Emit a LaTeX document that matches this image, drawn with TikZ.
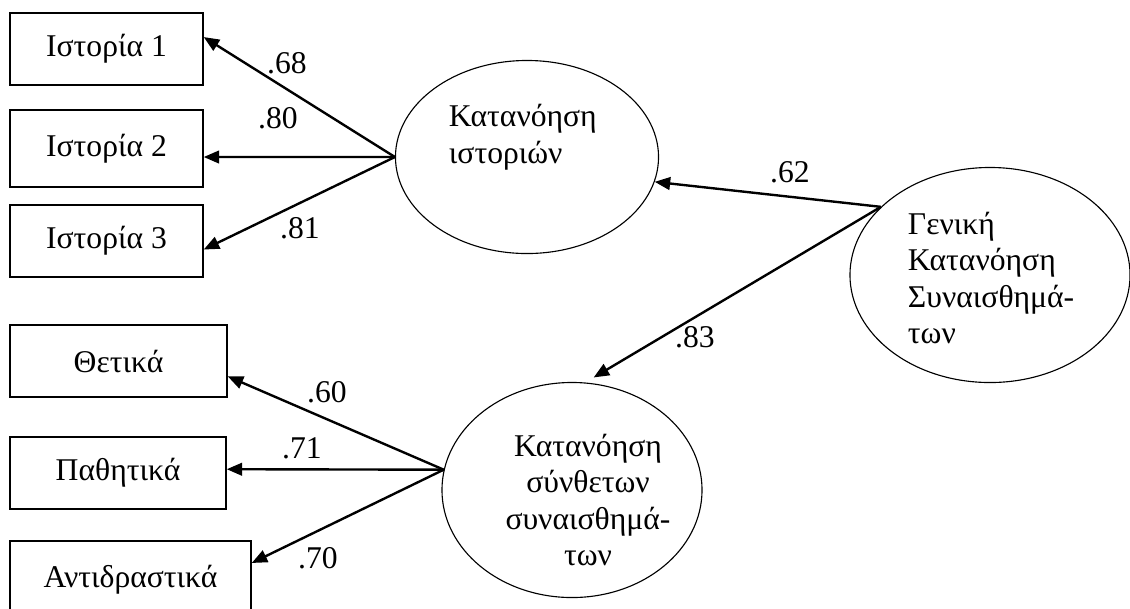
\documentclass[tikz,border=0pt]{standalone}
\usepackage{fontspec}
\setmainfont{Liberation Serif}
\usetikzlibrary{arrows.meta,shapes.geometric}
\begin{document}
\begin{tikzpicture}[x=0.025cm, y=-0.025cm,
    every node/.style={font=\fontsize{22.5}{26}\selectfont},
    box/.style={draw, line width=1pt, minimum width=4.825cm, minimum height=1.8cm, inner sep=0pt},
    latent/.style={draw, ellipse, line width=0.8pt, inner sep=0pt},
    load/.style={-{Triangle[length=11pt,width=9pt]}, line width=1.7pt},
    coef/.style={inner sep=1pt}]
    \useasboundingbox (0,0) rectangle (1130,608);
    \clip (0,0) rectangle (1130,608);

    % observed variables
    \node[box] (ist1) at (106.5,49) {Ιστορία 1};
    \node[box, minimum height=1.925cm] (ist2) at (106.5,148.5) {Ιστορία 2};
    \node[box] (ist3) at (106.5,241) {Ιστορία 3};
    \node[box, minimum width=5.425cm] (thet) at (118.5,361) {Θετικά};
    \node[box, minimum width=5.4cm] (path) at (118,473) {Παθητικά};
    \node[box, minimum width=6.025cm, minimum height=1.95cm] (antid) at (130.5,580) {Αντιδραστικά};

    % latent variables
    \node[latent, minimum width=6.575cm, minimum height=4.825cm] (ist) at (527,157) {};
    \node[align=left, anchor=west] (ist-txt) at (444,137) {Κατανόηση\\ιστοριών};
    \node[latent, minimum width=7cm, minimum height=5.375cm] (gen) at (990,275) {};
    \node[align=left, anchor=west] (gen-txt) at (903,278) {Γενική\\Κατανόηση\\Συναισθημά-\\των};
    \node[latent, minimum width=6.5cm, minimum height=5.375cm] (syn) at (572,490) {};
    \node[align=center] (syn-txt) at (588,500) {Κατανόηση\\σύνθετων\\συναισθημά-\\των};

    % loadings
    \draw[load] (ist.west) -- (ist1.7);
    \draw[load] (ist.west) -- (ist2.-5);
    \draw[load] (ist.west) -- (ist3.-5);
    \draw[load] (gen.148) -- (ist.-11);
    \draw[load, shorten >=7pt] (gen.148) -- (syn.83);
    \draw[load] (syn.171) -- (thet.-8);
    \draw[load] (syn.171) -- (path.2);
    \draw[load] (syn.171) -- (antid.8);

    % coefficients
    \node[coef] (c68) at (287,63) {.68};
    \node[coef] (c80) at (278,118) {.80};
    \node[coef] (c81) at (300,228) {.81};
    \node[coef] (c62) at (790,172) {.62};
    \node[coef] (c83) at (695,337) {.83};
    \node[coef] (c60) at (327,392) {.60};
    \node[coef] (c71) at (302,448) {.71};
    \node[coef] (c70) at (318,558) {.70};
\end{tikzpicture}
\end{document}
